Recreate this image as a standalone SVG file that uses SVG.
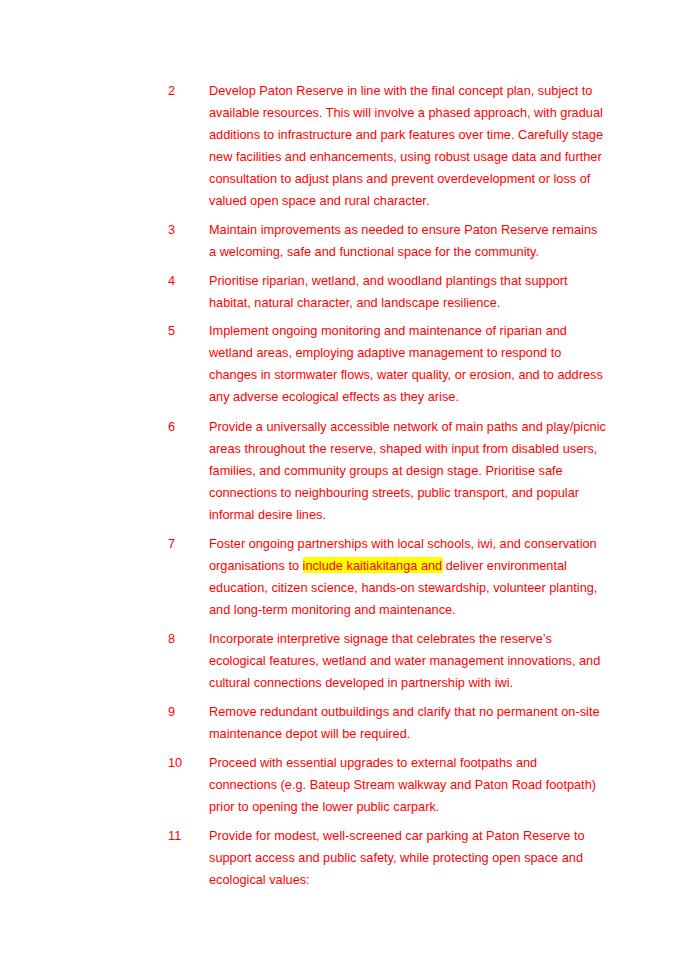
<svg xmlns="http://www.w3.org/2000/svg" width="690" height="975" viewBox="0 0 690 975">
<style>
text{font-family:"Liberation Sans",Arial,sans-serif;font-size:12.75px;fill:#FF0000}
</style>
<rect width="690" height="975" fill="#FFFFFF"/>
<rect x="303" y="557" width="140" height="16" fill="#FFFF00"/>
<g id="item2">
<text x="168" y="95">2</text>
<text x="209" y="95">Develop Paton Reserve in line with the final concept plan, subject to</text>
<text x="209" y="117">available resources. This will involve a phased approach, with gradual</text>
<text x="209" y="139">additions to infrastructure and park features over time. Carefully stage</text>
<text x="209" y="161">new facilities and enhancements, using robust usage data and further</text>
<text x="209" y="183">consultation to adjust plans and prevent overdevelopment or loss of</text>
<text x="209" y="205">valued open space and rural character.</text>
</g>
<g id="item3">
<text x="168" y="234">3</text>
<text x="209" y="234">Maintain improvements as needed to ensure Paton Reserve remains</text>
<text x="209" y="256">a welcoming, safe and functional space for the community.</text>
</g>
<g id="item4">
<text x="168" y="285">4</text>
<text x="209" y="285">Prioritise riparian, wetland, and woodland plantings that support</text>
<text x="209" y="307">habitat, natural character, and landscape resilience.</text>
</g>
<g id="item5">
<text x="168" y="335">5</text>
<text x="209" y="335">Implement ongoing monitoring and maintenance of riparian and</text>
<text x="209" y="357">wetland areas, employing adaptive management to respond to</text>
<text x="209" y="379">changes in stormwater flows, water quality, or erosion, and to address</text>
<text x="209" y="401">any adverse ecological effects as they arise.</text>
</g>
<g id="item6">
<text x="168" y="431">6</text>
<text x="209" y="431">Provide a universally accessible network of main paths and play/picnic</text>
<text x="209" y="453">areas throughout the reserve, shaped with input from disabled users,</text>
<text x="209" y="475">families, and community groups at design stage. Prioritise safe</text>
<text x="209" y="497">connections to neighbouring streets, public transport, and popular</text>
<text x="209" y="519">informal desire lines.</text>
</g>
<g id="item7">
<text x="168" y="548">7</text>
<text x="209" y="548">Foster ongoing partnerships with local schools, iwi, and conservation</text>
<text x="209" y="570">organisations to include kaitiakitanga and deliver environmental</text>
<text x="209" y="592">education, citizen science, hands-on stewardship, volunteer planting,</text>
<text x="209" y="614">and long-term monitoring and maintenance.</text>
</g>
<g id="item8">
<text x="168" y="643">8</text>
<text x="209" y="643">Incorporate interpretive signage that celebrates the reserve’s</text>
<text x="209" y="665">ecological features, wetland and water management innovations, and</text>
<text x="209" y="687">cultural connections developed in partnership with iwi.</text>
</g>
<g id="item9">
<text x="168" y="716">9</text>
<text x="209" y="716">Remove redundant outbuildings and clarify that no permanent on-site</text>
<text x="209" y="738">maintenance depot will be required.</text>
</g>
<g id="item10">
<text x="168" y="767">10</text>
<text x="209" y="767">Proceed with essential upgrades to external footpaths and</text>
<text x="209" y="789">connections (e.g. Bateup Stream walkway and Paton Road footpath)</text>
<text x="209" y="811">prior to opening the lower public carpark.</text>
</g>
<g id="item11">
<text x="168" y="840">11</text>
<text x="209" y="840">Provide for modest, well-screened car parking at Paton Reserve to</text>
<text x="209" y="862">support access and public safety, while protecting open space and</text>
<text x="209" y="884">ecological values:</text>
</g>
<g id="connectors"/>
</svg>
